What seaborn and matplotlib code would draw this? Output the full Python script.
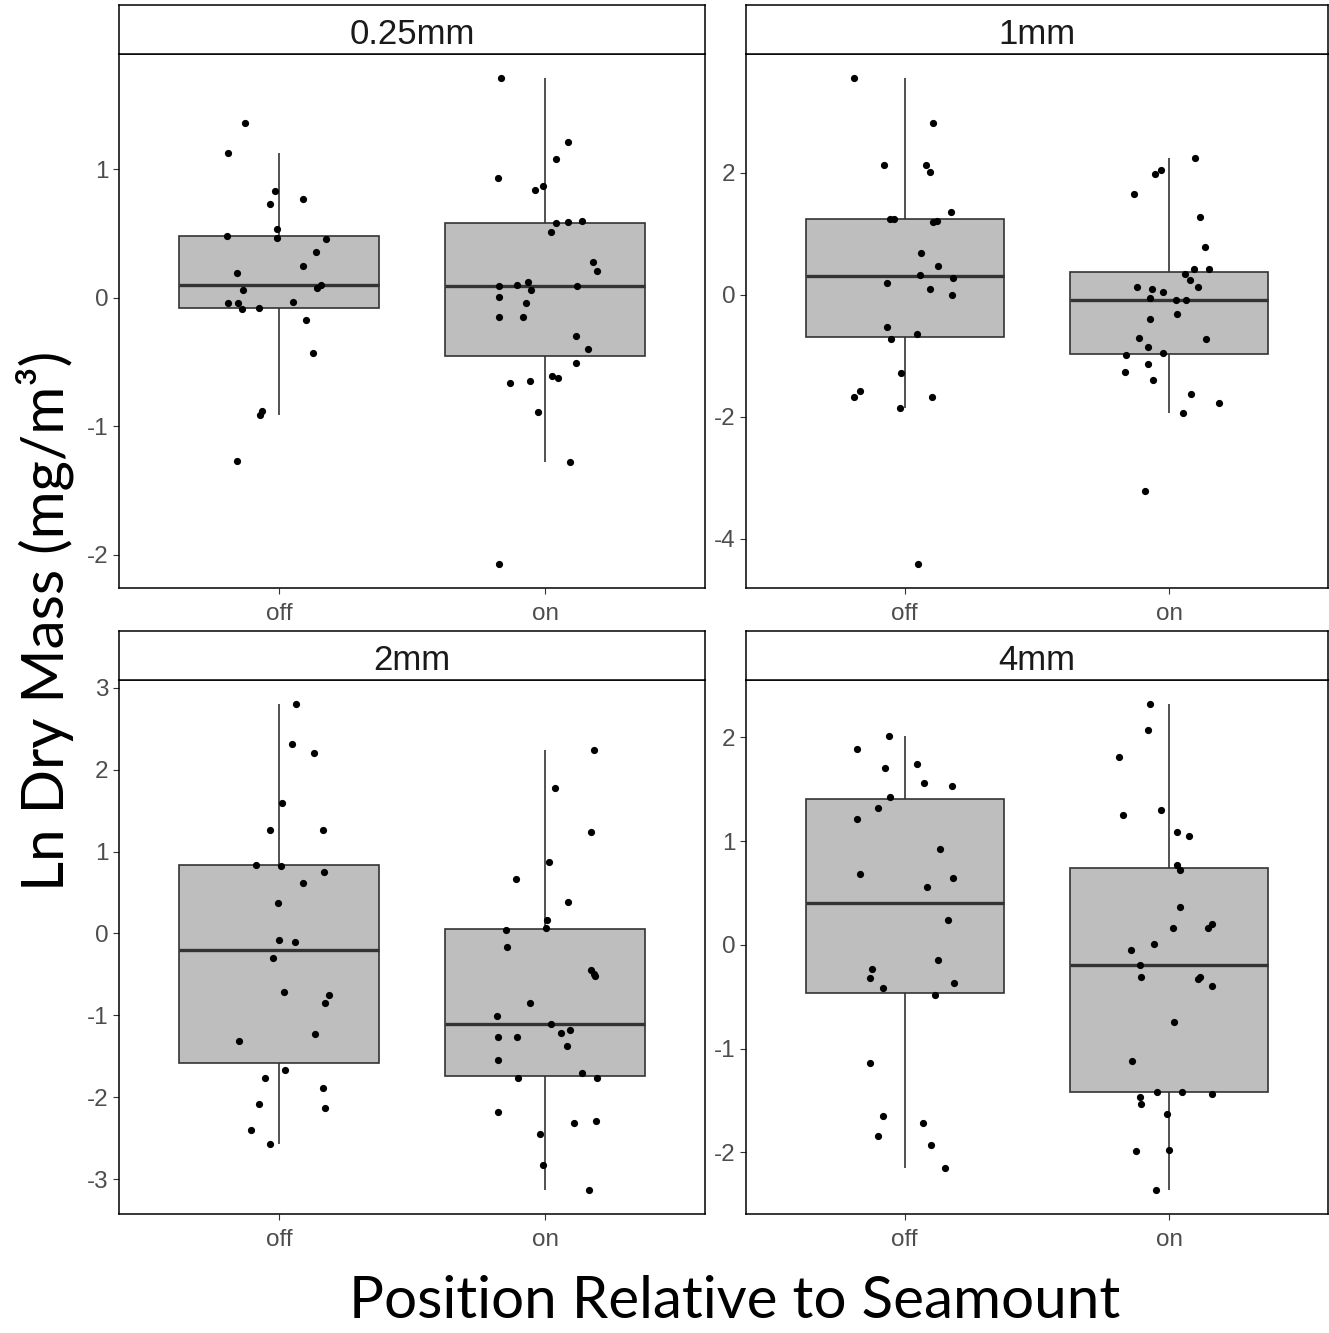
import matplotlib
matplotlib.use("Agg")
import matplotlib.pyplot as plt
import numpy as np
import pandas as pd
import seaborn as sns
from matplotlib.ticker import MultipleLocator

sns.set_theme(style="white")
plt.rcParams["font.family"] = ["Liberation Sans", "DejaVu Sans"]
plt.rcParams["axes.unicode_minus"] = False

# facet labels and x categories
sizes = ["0.25mm", "1mm", "2mm", "4mm"]
positions = ["off", "on"]

# Ln dry mass values (one list per panel / position)
mm025_off = [1.36, 1.13, 0.83, 0.77, 0.73, 0.54, 0.48, 0.47, 0.46, 0.36, 0.25, 0.19, 0.10,
             0.08, 0.06, -0.03, -0.04, -0.04, -0.08, -0.09, -0.17, -0.43, -0.88, -0.91, -1.27]
mm025_on = [1.71, 1.21, 1.08, 0.93, 0.87, 0.84, 0.60, 0.59, 0.58, 0.51, 0.28, 0.21, 0.12, 0.10,
            0.09, 0.09, 0.06, 0.01, -0.04, -0.15, -0.15, -0.30, -0.40, -0.51, -0.61, -0.62,
            -0.65, -0.66, -0.89, -1.28, -2.07]
mm1_off = [3.55, 2.81, 2.13, 2.13, 2.02, 1.36, 1.25, 1.25, 1.21, 1.19, 0.68, 0.47, 0.32,
           0.28, 0.19, 0.10, -0.01, -0.53, -0.64, -0.72, -1.28, -1.58, -1.68, -1.68, -1.86, -4.41]
mm1_on = [2.25, 2.04, 1.98, 1.66, 1.27, 0.78, 0.42, 0.42, 0.34, 0.25, 0.13, 0.13, 0.10, 0.04,
          -0.05, -0.09, -0.09, -0.32, -0.39, -0.71, -0.72, -0.85, -0.96, -0.98, -1.13, -1.26,
          -1.40, -1.62, -1.77, -1.94, -3.22]
mm2_off = [2.80, 2.31, 2.20, 1.59, 1.26, 1.26, 0.84, 0.83, 0.75, 0.62, 0.37, -0.08, -0.11,
           -0.30, -0.71, -0.75, -0.85, -1.23, -1.31, -1.67, -1.77, -1.89, -2.08, -2.13, -2.40, -2.57]
mm2_on = [2.24, 1.78, 1.24, 0.87, 0.67, 0.39, 0.16, 0.07, 0.04, -0.17, -0.44, -0.49, -0.52,
          -0.85, -1.01, -1.10, -1.18, -1.21, -1.26, -1.26, -1.37, -1.55, -1.70, -1.77, -1.77,
          -2.18, -2.29, -2.31, -2.45, -2.83, -3.13]
mm4_off = [2.01, 1.89, 1.74, 1.71, 1.56, 1.53, 1.43, 1.32, 1.21, 0.92, 0.68, 0.65, 0.56, 0.24,
           -0.15, -0.23, -0.32, -0.37, -0.42, -0.48, -1.14, -1.65, -1.72, -1.84, -1.93, -2.15]
mm4_on = [2.32, 2.07, 1.81, 1.30, 1.25, 1.09, 1.05, 0.77, 0.72, 0.37, 0.20, 0.16, 0.16, 0.01,
          -0.05, -0.19, -0.31, -0.31, -0.33, -0.40, -0.74, -1.12, -1.42, -1.42, -1.44, -1.47,
          -1.53, -1.63, -1.98, -1.99, -2.36]

panel_data = {
    "0.25mm": (mm025_off, mm025_on),
    "1mm": (mm1_off, mm1_on),
    "2mm": (mm2_off, mm2_on),
    "4mm": (mm4_off, mm4_on),
}

rows = []
for size in sizes:
    for pos, vals in zip(positions, panel_data[size]):
        rows += [{"size": size, "position": pos, "value": v} for v in vals]
df = pd.DataFrame(rows)

W, H = 1329, 1333
fig = plt.figure(figsize=(W / 100, H / 100), dpi=100)


def px_rect(left, top, right, bottom):
    return [left / W, 1 - bottom / H, (right - left) / W, (bottom - top) / H]


# (panel rect, strip rect) in pixels
layout = [
    ((119, 54, 705, 588), (119, 5, 705, 54)),
    ((746, 54, 1328, 588), (746, 5, 1328, 54)),
    ((119, 680, 705, 1214), (119, 631, 705, 680)),
    ((746, 680, 1328, 1214), (746, 631, 1328, 680)),
]
tick_step = {"0.25mm": 1, "1mm": 2, "2mm": 1, "4mm": 1}

BOX_FILL = "#BEBEBE"
EDGE = "#333333"
TICK_TXT = "#4D4D4D"

np.random.seed(11)
for size, (prect, srect) in zip(sizes, layout):
    ax = fig.add_axes(px_rect(*prect))
    sub = df[df["size"] == size]
    sns.boxplot(data=sub, x="position", y="value", order=positions, ax=ax,
                width=0.75, color=BOX_FILL, saturation=1, linecolor=EDGE,
                linewidth=1.2, showfliers=False, showcaps=False,
                medianprops={"linewidth": 2.4})
    sns.stripplot(data=sub, x="position", y="value", order=positions, ax=ax,
                  jitter=0.2, color="black", size=5.2, zorder=3)
    lo, hi = sub["value"].min(), sub["value"].max()
    pad = (hi - lo) * 0.05
    ax.set_ylim(lo - pad, hi + pad)
    ax.set_xlim(-0.6, 1.6)
    ax.yaxis.set_major_locator(MultipleLocator(tick_step[size]))
    ax.set_xlabel("")
    ax.set_ylabel("")
    ax.tick_params(axis="both", which="both", direction="out", length=4.5, width=0.8,
                   color=EDGE, labelcolor=TICK_TXT, labelsize=17.5, pad=3,
                   left=True, bottom=True)
    ax.tick_params(axis="x", pad=6)
    for sp in ax.spines.values():
        sp.set_color("black")
        sp.set_linewidth(1.1)

    sax = fig.add_axes(px_rect(*srect))
    sax.set_xticks([])
    sax.set_yticks([])
    sax.set_facecolor("white")
    for sp in sax.spines.values():
        sp.set_color("black")
        sp.set_linewidth(1.1)
    sax.text(0.5, 0.47, size, ha="center", va="center_baseline", fontsize=25,
             color="#1A1A1A", transform=sax.transAxes)

fig.text(45 / W, 1 - 621 / H, "Ln Dry Mass (mg/m³)", rotation=90, ha="center",
         va="center", fontsize=42, family=["Lato", "DejaVu Sans"], color="black")
fig.text(735 / W, 1 - 1318 / H, "Position Relative to Seamount", ha="center",
         va="baseline", fontsize=42, family=["Lato", "DejaVu Sans"], color="black")

fig.savefig("out.png", dpi=100, facecolor="white")
